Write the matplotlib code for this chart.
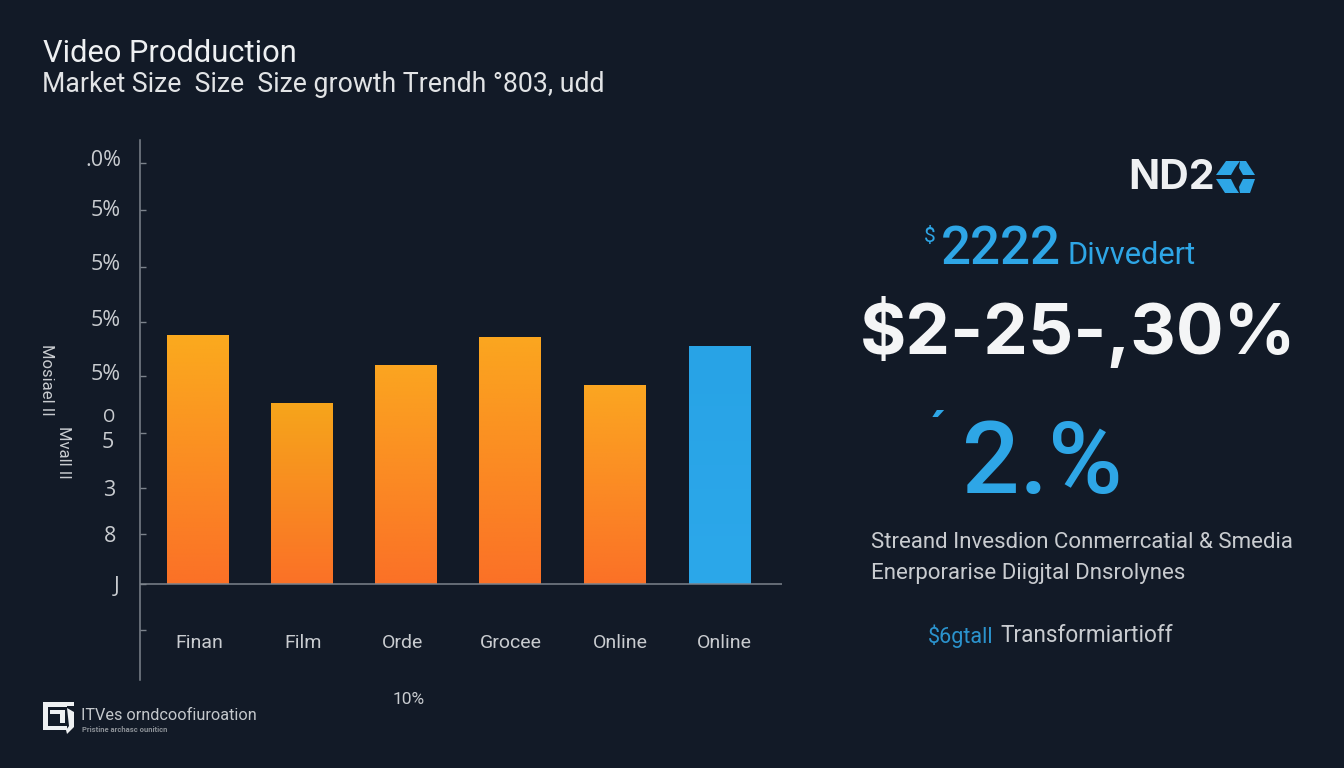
import matplotlib
matplotlib.use("Agg")
import matplotlib.pyplot as plt
import numpy as np
from matplotlib.patches import Polygon, Rectangle

plt.rcParams['font.family'] = ['Roboto', 'DejaVu Sans']

BG = '#121a27'
WHITE = '#eef0f2'
GREY = '#c9ccd0'
BLUE = '#2ea6e6'
AXIS = '#7c838c'
BIG = ['Inter', 'DejaVu Sans']
WIDE = ['Open Sans', 'DejaVu Sans']

categories = ['Finan', 'Film', 'Orde', 'Grocee', 'Online', 'Online']
category_xs = [199, 303, 403, 511, 620, 724]
values = [24.9, 18.1, 21.9, 24.7, 19.9, 23.8]
bar_tops = ['#fbaa1e', '#f6a51b', '#fba520', '#fba61f', '#fba621', '#28a3e6']
bar_bottoms = ['#fb7127', '#fb7127', '#fb7127', '#fb7127', '#fb7127', '#2ca8ea']
tick_values = [42.1, 37.4, 31.7, 26.2, 20.8, 15.1, 9.6, 5.0, 0.0, -4.6]
tick_labels = ['.0%', '5%', '5%', '5%', '5%', '5', '3', '8', 'J', '']

fig = plt.figure(figsize=(13.44, 7.68), dpi=100, facecolor=BG)

# chart area, in px: x 140-782, y 140-680
ax = fig.add_axes([140 / 1344, 1 - 680 / 768, 642 / 1344, 540 / 768])
ax.set_facecolor('none')

positions = np.array([0, 0.995, 1.99, 2.985, 3.99, 5.0])
bars = ax.bar(positions, values, width=0.59, color='none', linewidth=0, zorder=2)
for bar, top, bottom in zip(bars, bar_tops, bar_bottoms):
    c1 = np.array(matplotlib.colors.to_rgb(top))
    c2 = np.array(matplotlib.colors.to_rgb(bottom))
    grad = np.linspace(c1, c2, 128).reshape(128, 1, 3)
    x0, w, h = bar.get_x(), bar.get_width(), bar.get_height()
    ax.imshow(grad, extent=[x0, x0 + w, 0, h], aspect='auto', zorder=2)
ax.set_xlim(-0.55, 5.593)
ax.set_ylim(-9.6, 44.4)

for side in ['top', 'right', 'bottom']:
    ax.spines[side].set_visible(False)
ax.spines['left'].set_color(AXIS)
ax.spines['left'].set_linewidth(1.1)
ax.axhline(0, color=AXIS, lw=1.1, zorder=3)

ax.set_yticks(tick_values)
ax.set_yticklabels([])
ax.tick_params(axis='y', direction='in', length=4, width=1, color=AXIS)
ax.set_xticks([])

# overlay in pixel coordinates for the text and logos
ov = fig.add_axes([0, 0, 1, 1])
ov.set_xlim(0, 1344)
ov.set_ylim(768, 0)
ov.axis('off')
ov.patch.set_alpha(0)


def label(x, y, s, size, color=WHITE, ha='left', weight='normal', rotation=0, family=None):
    ov.text(x, y, s, fontsize=size, color=color, ha=ha, va='center',
            fontweight=weight, rotation=rotation, family=family)


label(43, 53, 'Video Prodduction', 22.2, WHITE)
label(42, 85, 'Market Size  Size  Size growth Trendh \u00b0803, udd', 19.2, '#e2e4e6')

for x, name in zip(category_xs, categories):
    label(x, 643, name, 14, GREY, ha='center')

label_ys = [160, 210, 265, 321, 375, 443, 490, 537, 587]
label_rights = [121, 121, 121, 121, 121, 114, 115, 116, 120]
for s, y, r in zip(tick_labels, label_ys, label_rights):
    label(r, y, s, 15.5, GREY, ha='right', family=WIDE)
label(115, 417, 'O', 13, GREY, ha='right')
label(46, 380, 'Mosiael II', 12, GREY, ha='center', rotation=-90)
label(63, 452, 'Mvall II', 12, GREY, ha='center', rotation=-90)
label(409, 699, '10%', 12.5, GREY, ha='center')

# bottom left logo
for x, y, w, h in [(43, 702, 24, 5), (43, 702, 5, 28), (43, 726, 24, 4),
                   (50, 710, 15, 4), (60, 710, 5, 13), (67, 702, 7, 4)]:
    ov.add_patch(Rectangle((x, y), w, h, color=WHITE, lw=0))
ov.add_patch(Polygon([(67, 708), (74, 712), (74, 727), (67, 734), (66, 730), (69, 726)],
                     color=WHITE, lw=0))
label(81, 715, 'ITVes orndcoofiuroation', 11.7, '#c4c8cc')
label(82, 730, 'Pristine archasc ouniticn', 5.5, '#8b9096', weight='bold')

# top right logo
label(1128, 178, 'ND2', 29.5, WHITE, weight='bold', family=BIG)
logo_parts = [
    [(1226, 161), (1240, 161), (1235, 168), (1231, 175), (1216, 175)],
    [(1240, 161), (1246, 161), (1255, 175), (1243, 175), (1239, 168)],
    [(1216, 179), (1231, 179), (1235, 187), (1239, 193), (1225, 193)],
    [(1243, 179), (1255, 179), (1250, 193), (1240, 193), (1239, 187)],
]
for pts in logo_parts:
    ov.add_patch(Polygon(pts, color=BLUE, lw=0))

# key figures
label(924, 236, '$', 15, BLUE)
label(941, 250, '2222', 38, BLUE, weight='medium')
label(1067, 255, 'Divvedert', 22.2, BLUE)
label(860, 332, '$2-25-,30%', 51, '#f4f5f6', weight='bold', family=BIG)
label(930, 432, '\u00b4', 34, BLUE, weight='bold')
label(962, 466, '2.%', 73, BLUE, weight='medium')
label(871, 543, 'Streand Invesdion Conmerrcatial & Smedia', 16, GREY)
label(871, 574, 'Enerporarise Diigjtal Dnsrolynes', 16, GREY)
label(928, 636, '$6gtall', 15.6, '#2b93cd')
label(1000, 636, 'Transformiartioff', 16.3, GREY)

fig.savefig('out.png', dpi=100, facecolor=BG)
